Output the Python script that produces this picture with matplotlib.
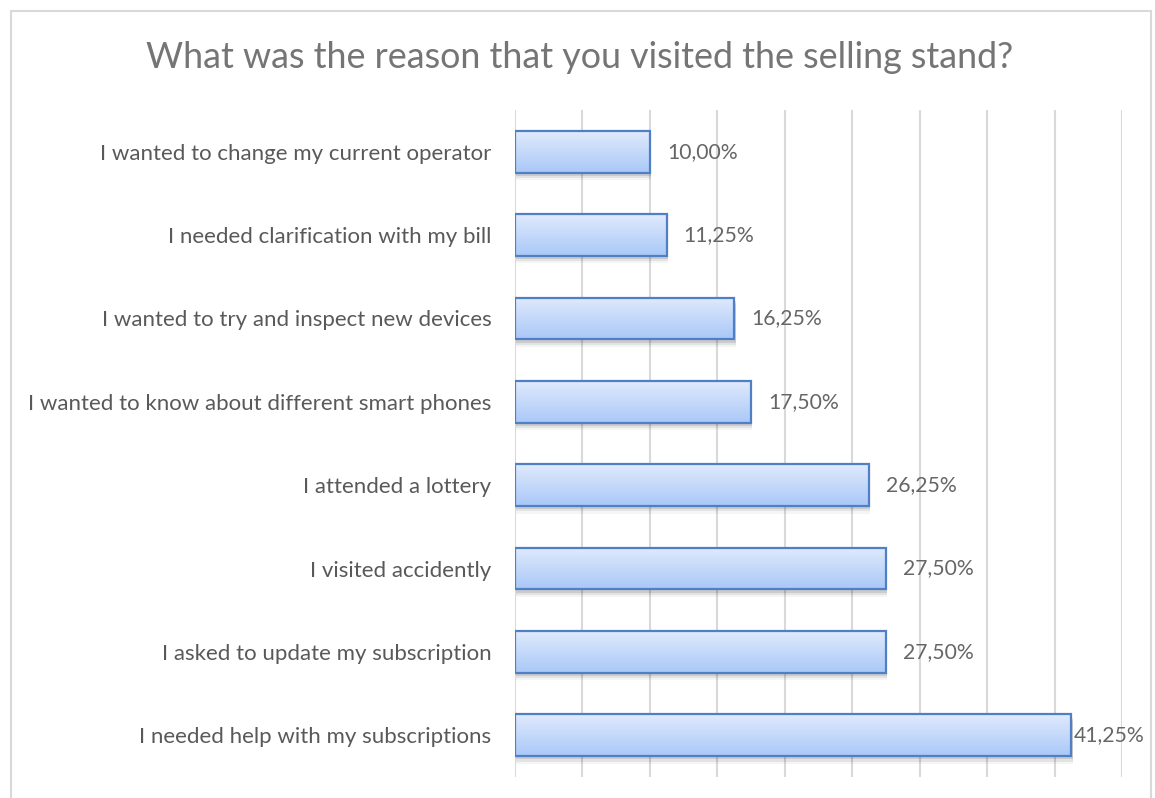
import matplotlib.pyplot as plt
import matplotlib.patches as mpatches
import numpy as np

reasons = [
    "I needed help with my subscriptions",
    "I asked to update my subscription",
    "I visited accidently",
    "I attended a lottery",
    "I wanted to know about different smart phones",
    "I wanted to try and inspect new devices",
    "I needed clarification with my bill",
    "I wanted to change my current operator",
]
shares = [41.25, 27.50, 27.50, 26.25, 17.50, 16.25, 11.25, 10.00]
labels = ["41,25%", "27,50%", "27,50%", "26,25%", "17,50%", "16,25%", "11,25%", "10,00%"]

plt.rcParams['font.family'] = ['Lato', 'DejaVu Sans']

fig = plt.figure(figsize=(11.55, 7.98), dpi=100)
ax = fig.add_axes([515 / 1155, 1 - 777 / 798, 607 / 1155, 667 / 798])

# chart border
fig.patches.append(mpatches.Rectangle((11 / 1155, -0.01), 1140 / 1155, 1 - 11 / 798 + 0.01,
                                      transform=fig.transFigure, fill=False,
                                      edgecolor='#d9d9d9', linewidth=1.5, zorder=0))

y = np.arange(len(reasons))
height = 0.5

# gradient image used for bar fill
grad = np.linspace(0, 1, 256).reshape(-1, 1)
cmap = plt.matplotlib.colors.LinearSegmentedColormap.from_list('bar', ['#a9c8f8', '#e0eafc'])

for yi, v, lab in zip(y, shares, labels):
    # soft shadow
    for k, a in enumerate([0.10, 0.07, 0.04]):
        d = 0.04 + k * 0.025
        ax.add_patch(mpatches.Rectangle((0.1, yi - height / 2 - d), v, height,
                                        facecolor='black', alpha=a, edgecolor='none', zorder=2))
    rect = mpatches.Rectangle((0, yi - height / 2), v, height, facecolor='none',
                              edgecolor='#4f7fc4', linewidth=1.6, zorder=4)
    ax.add_patch(rect)
    im = ax.imshow(grad, extent=[0, v, yi - height / 2, yi + height / 2], origin='lower',
                   cmap=cmap, aspect='auto', zorder=3)
    im.set_clip_path(rect)
    off = 2 if v == max(shares) else 17
    ax.annotate(lab, (v, yi), xytext=(off, 0), textcoords='offset pixels',
                va='center', ha='left', fontsize=15.2, color='#666666', zorder=5)

ax.set_xlim(0, 45)
ax.set_ylim(-0.5, len(reasons) - 0.5)
ax.set_xticks(np.arange(0, 50, 5))
ax.set_xticklabels([])
ax.tick_params(axis='x', length=0)
ax.set_yticks(y)
ax.set_yticklabels(reasons, fontsize=16, color='#595959')
ax.tick_params(axis='y', length=0, pad=17)
ax.grid(axis='x', color='#d9d9d9', linewidth=1.5, zorder=0)
ax.set_axisbelow(True)
for s in ax.spines.values():
    s.set_visible(False)

fig.text(580 / 1155, 1 - 57 / 798, "What was the reason that you visited the selling stand?",
         ha='center', va='center', fontsize=25.8, color='#757575')

fig.savefig("out.png", dpi=100)
